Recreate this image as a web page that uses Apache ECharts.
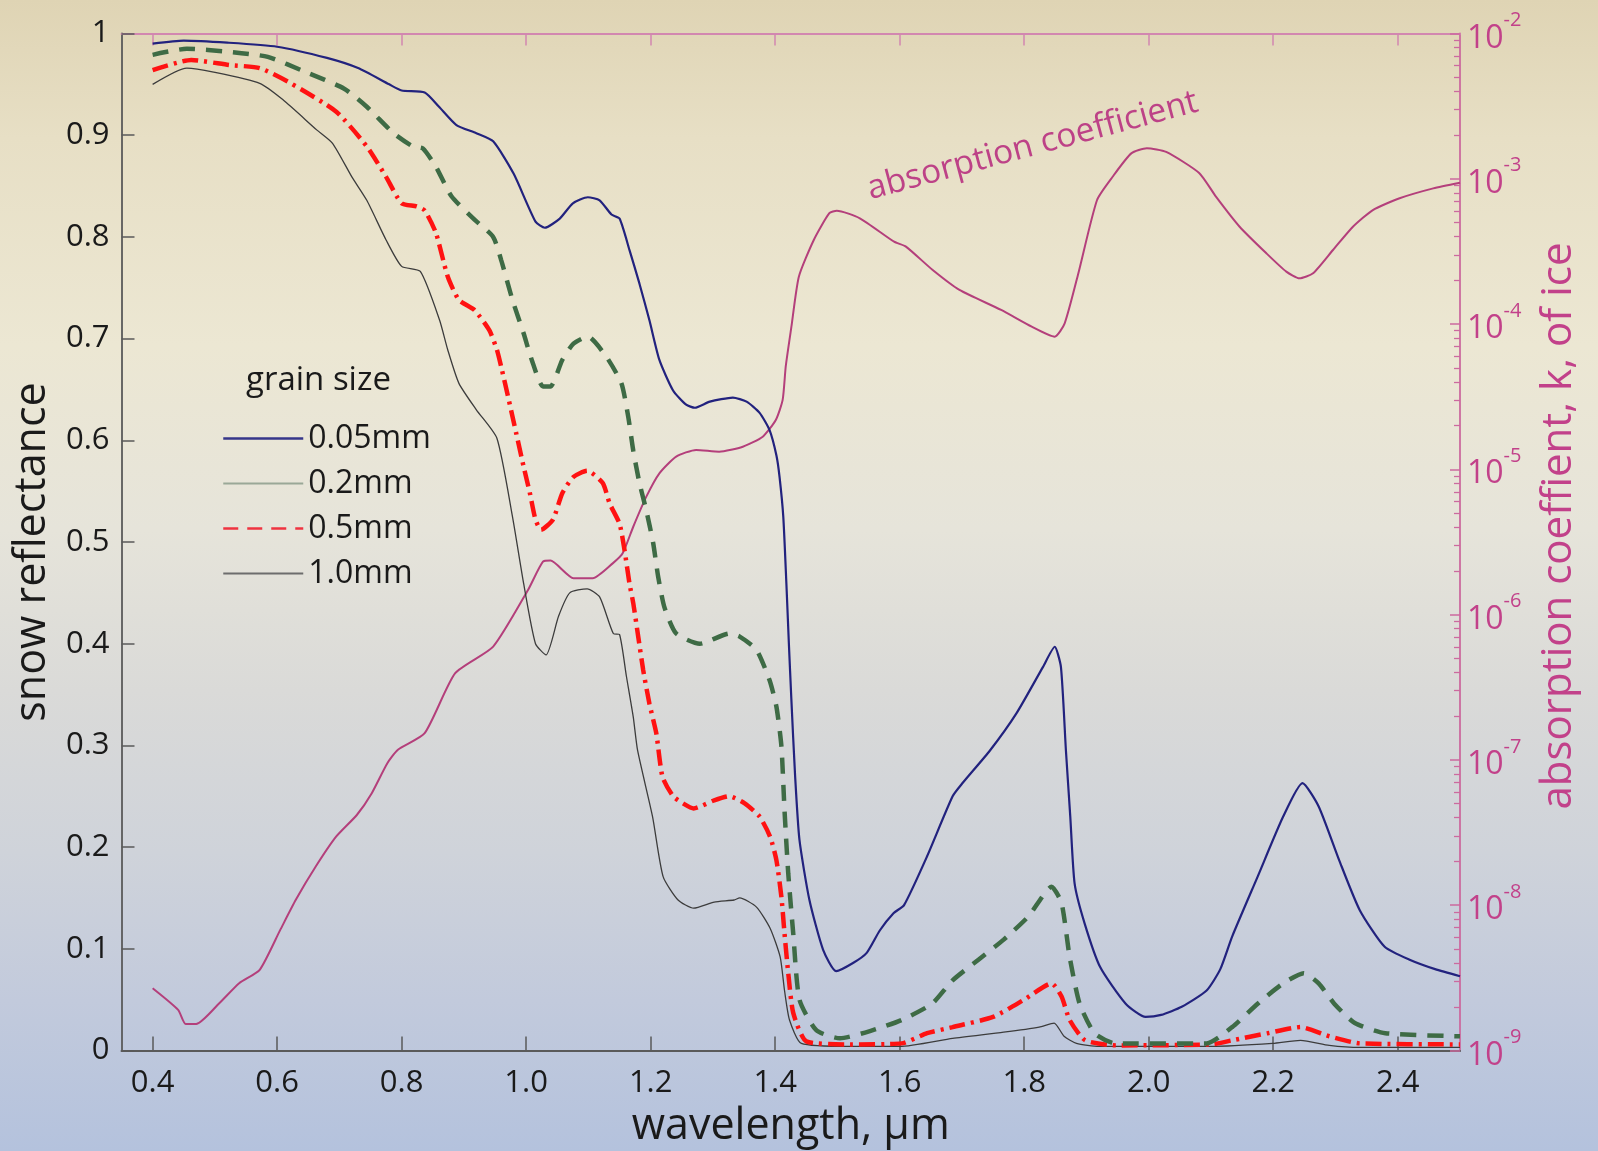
<!DOCTYPE html>
<html><head><meta charset="utf-8">
<script src="https://cdn.jsdelivr.net/npm/echarts@6/dist/echarts.min.js"></script>
<style>
html,body{margin:0;padding:0;width:1598px;height:1151px;overflow:hidden;}
body{background:linear-gradient(to bottom,#dfd4b4 0%,#e7dfc5 12%,#ece7d3 30%,#e6e4da 46%,#dadad8 60%,#cfd3da 74%,#c2cadc 87%,#b4c2dd 100%);}
#chart{width:1598px;height:1151px;}
</style></head><body><div id="chart"></div>
<script>
// ---- data ----
const xTickValues = [0.4, 0.6, 0.8, 1.0, 1.2, 1.4, 1.6, 1.8, 2.0, 2.2, 2.4];
const legendNames = ['0.05mm', '0.2mm', '0.5mm', '1.0mm'];

// grain 0.05 mm : [wavelength um, reflectance]
const r005 = [[0.40,0.990],[0.45,0.993],[0.52,0.991],[0.60,0.987],[0.68,0.976],[0.73,0.966],[0.78,0.950],[0.80,0.944],[0.837,0.942],[0.86,0.928],[0.888,0.910],[0.92,0.902],[0.947,0.894],[0.98,0.862],[1.015,0.815],[1.03,0.809],[1.054,0.818],[1.075,0.833],[1.099,0.839],[1.118,0.836],[1.137,0.822],[1.15,0.818],[1.166,0.787],[1.182,0.754],[1.198,0.718],[1.214,0.679],[1.236,0.649],[1.257,0.635],[1.271,0.632],[1.295,0.638],[1.332,0.642],[1.354,0.638],[1.375,0.627],[1.391,0.610],[1.402,0.585],[1.407,0.564],[1.413,0.525],[1.418,0.459],[1.422,0.400],[1.426,0.345],[1.432,0.270],[1.439,0.207],[1.455,0.148],[1.477,0.099],[1.498,0.078],[1.525,0.086],[1.547,0.096],[1.568,0.118],[1.590,0.135],[1.607,0.143],[1.644,0.191],[1.685,0.250],[1.701,0.263],[1.745,0.295],[1.788,0.332],[1.830,0.377],[1.849,0.397],[1.859,0.377],[1.867,0.295],[1.874,0.230],[1.881,0.164],[1.897,0.125],[1.922,0.082],[1.963,0.046],[1.995,0.033],[2.020,0.035],[2.053,0.043],[2.093,0.059],[2.115,0.080],[2.134,0.112],[2.175,0.171],[2.216,0.230],[2.247,0.263],[2.273,0.240],[2.306,0.187],[2.339,0.138],[2.379,0.102],[2.420,0.089],[2.460,0.080],[2.500,0.073]];

// grain 0.2 mm
const r02 = [[0.40,0.979],[0.455,0.985],[0.523,0.982],[0.585,0.977],[0.646,0.962],[0.707,0.946],[0.744,0.928],[0.787,0.902],[0.818,0.889],[0.834,0.887],[0.855,0.869],[0.88,0.840],[0.917,0.817],[0.947,0.800],[0.96,0.777],[0.978,0.738],[0.996,0.705],[1.009,0.679],[1.027,0.653],[1.039,0.653],[1.058,0.679],[1.076,0.695],[1.099,0.702],[1.129,0.682],[1.153,0.656],[1.164,0.623],[1.172,0.590],[1.182,0.558],[1.193,0.531],[1.204,0.499],[1.212,0.466],[1.222,0.436],[1.241,0.410],[1.279,0.400],[1.327,0.410],[1.343,0.407],[1.37,0.394],[1.391,0.364],[1.402,0.338],[1.41,0.299],[1.415,0.236],[1.421,0.174],[1.429,0.115],[1.439,0.050],[1.466,0.020],[1.504,0.012],[1.557,0.020],[1.603,0.030],[1.652,0.046],[1.685,0.069],[1.726,0.089],[1.767,0.109],[1.807,0.132],[1.844,0.161],[1.86,0.145],[1.873,0.092],[1.889,0.046],[1.913,0.017],[1.946,0.007],[2.093,0.007],[2.134,0.023],[2.175,0.046],[2.216,0.066],[2.249,0.076],[2.273,0.066],[2.298,0.046],[2.331,0.027],[2.38,0.017],[2.50,0.014]];

// grain 0.5 mm
const r05 = [[0.40,0.964],[0.462,0.974],[0.523,0.969],[0.572,0.966],[0.622,0.951],[0.695,0.923],[0.744,0.889],[0.775,0.859],[0.80,0.833],[0.824,0.830],[0.837,0.826],[0.855,0.804],[0.874,0.761],[0.892,0.738],[0.917,0.728],[0.941,0.708],[0.953,0.689],[0.96,0.672],[0.972,0.640],[0.984,0.607],[0.996,0.574],[1.006,0.548],[1.015,0.522],[1.024,0.512],[1.043,0.522],[1.058,0.548],[1.076,0.564],[1.098,0.570],[1.123,0.558],[1.134,0.538],[1.15,0.518],[1.158,0.492],[1.166,0.459],[1.172,0.440],[1.18,0.407],[1.188,0.374],[1.198,0.341],[1.209,0.312],[1.219,0.269],[1.236,0.250],[1.252,0.243],[1.269,0.238],[1.302,0.246],[1.326,0.250],[1.351,0.243],[1.375,0.230],[1.392,0.210],[1.402,0.187],[1.41,0.151],[1.415,0.115],[1.421,0.076],[1.429,0.037],[1.45,0.009],[1.52,0.006],[1.603,0.007],[1.644,0.017],[1.685,0.023],[1.75,0.033],[1.80,0.050],[1.844,0.066],[1.86,0.053],[1.873,0.030],[1.898,0.010],[1.95,0.005],[2.10,0.006],[2.134,0.010],[2.191,0.017],[2.244,0.023],[2.29,0.014],[2.339,0.007],[2.50,0.006]];

// grain 1.0 mm
const r10 = [[0.40,0.950],[0.455,0.966],[0.498,0.962],[0.572,0.951],[0.609,0.935],[0.664,0.905],[0.689,0.892],[0.72,0.859],[0.744,0.836],[0.775,0.797],[0.80,0.771],[0.83,0.766],[0.861,0.718],[0.874,0.689],[0.892,0.656],[0.92,0.630],[0.953,0.602],[0.978,0.525],[0.996,0.459],[1.015,0.400],[1.032,0.389],[1.052,0.427],[1.07,0.450],[1.098,0.454],[1.118,0.446],[1.14,0.410],[1.15,0.409],[1.161,0.368],[1.172,0.328],[1.179,0.295],[1.203,0.230],[1.22,0.171],[1.244,0.148],[1.269,0.140],[1.302,0.146],[1.334,0.148],[1.343,0.150],[1.37,0.141],[1.392,0.120],[1.408,0.092],[1.415,0.059],[1.423,0.030],[1.442,0.007],[1.52,0.004],[1.60,0.004],[1.685,0.012],[1.767,0.018],[1.824,0.023],[1.848,0.027],[1.864,0.014],[1.884,0.007],[1.92,0.004],[2.10,0.004],[2.199,0.007],[2.244,0.010],[2.29,0.005],[2.34,0.003],[2.50,0.003]];

// absorption coefficient of ice: [wavelength um, log10 k]
const absLog10k = [[0.40,-8.571],[0.441,-8.72],[0.453,-8.817],[0.47,-8.817],[0.507,-8.675],[0.539,-8.537],[0.572,-8.445],[0.605,-8.17],[0.63,-7.963],[0.662,-7.734],[0.695,-7.527],[0.728,-7.379],[0.752,-7.229],[0.777,-7.023],[0.794,-6.93],[0.837,-6.816],[0.886,-6.403],[0.947,-6.22],[1.003,-5.83],[1.027,-5.635],[1.039,-5.628],[1.076,-5.749],[1.107,-5.749],[1.139,-5.647],[1.155,-5.578],[1.172,-5.395],[1.193,-5.188],[1.214,-5.027],[1.241,-4.912],[1.273,-4.866],[1.31,-4.878],[1.348,-4.844],[1.38,-4.775],[1.401,-4.66],[1.412,-4.522],[1.417,-4.29],[1.426,-4.02],[1.438,-3.674],[1.462,-3.421],[1.487,-3.237],[1.499,-3.22],[1.536,-3.272],[1.591,-3.433],[1.61,-3.467],[1.653,-3.628],[1.696,-3.765],[1.763,-3.903],[1.812,-4.018],[1.849,-4.087],[1.865,-3.995],[1.887,-3.65],[1.917,-3.146],[1.942,-2.986],[1.972,-2.825],[1.997,-2.79],[2.028,-2.815],[2.081,-2.96],[2.108,-3.123],[2.146,-3.33],[2.189,-3.513],[2.221,-3.639],[2.242,-3.685],[2.264,-3.65],[2.296,-3.49],[2.328,-3.33],[2.36,-3.215],[2.403,-3.134],[2.457,-3.066],[2.50,-3.027]];

// ---- chart ----
const FONT = '"Open Sans", "Noto Sans", sans-serif';
const PINK = '#c2418a';
const AXIS_GRAY = '#5a5a5a';

const minorLogTicks = [];
for (let e = -9; e < -2; e++) for (let m = 2; m <= 9; m++) minorLogTicks.push(e + Math.log10(m));

const absData = absLog10k.map(p => [p[0], Math.pow(10, p[1])]);

const hidden = {opacity: 0, borderWidth: 0};

const chart = echarts.init(document.getElementById('chart'), null, {renderer: 'canvas'});
chart.setOption({
  animation: false,
  backgroundColor: 'transparent',
  textStyle: {fontFamily: FONT},
  grid: {left: 121.5, right: 138, top: 33.5, bottom: 100.5, containLabel: false, outerBoundsMode: 'none'},
  xAxis: [{
    type: 'value', position: 'bottom', min: 0.35, max: 2.5,
    axisLine: {lineStyle: {color: AXIS_GRAY, width: 2}},
    axisTick: {inside: true, length: 14, lineStyle: {color: AXIS_GRAY, width: 1.5}, customValues: xTickValues},
    axisLabel: {customValues: xTickValues, fontSize: 31, color: '#1a1a1a', fontFamily: FONT, margin: 17,
      formatter: v => v.toFixed(1)},
    splitLine: {show: false},
    name: 'wavelength, µm', nameLocation: 'middle', nameGap: 55,
    nameTextStyle: {fontSize: 43, color: '#1a1a1a', fontFamily: FONT}
  }, {
    type: 'value', position: 'top', min: 0.35, max: 2.5,
    axisLine: {lineStyle: {color: '#d287b0', width: 1.8}},
    axisTick: {inside: true, length: 12, lineStyle: {color: '#d287b0', width: 1.5}, customValues: xTickValues},
    axisLabel: {show: false},
    splitLine: {show: false}
  }],
  yAxis: [{
    type: 'value', position: 'left', min: 0, max: 1, interval: 0.1,
    axisLine: {lineStyle: {color: AXIS_GRAY, width: 1.8}},
    axisTick: {inside: true, length: 13, lineStyle: {color: AXIS_GRAY, width: 1.5}},
    axisLabel: {fontSize: 31, color: '#1a1a1a', fontFamily: FONT, margin: 12,
      formatter: v => (v === 0 ? '0' : (Math.abs(v - 1) < 1e-9 ? '1' : v.toFixed(1)))},
    splitLine: {show: false},
    name: 'snow reflectance', nameLocation: 'middle', nameGap: 67, nameRotate: 90,
    nameTextStyle: {fontSize: 43, color: '#1a1a1a', fontFamily: FONT, padding: [0, 20, 0, 0]}
  }, {
    type: 'log', logBase: 10, position: 'right', min: 1e-9, max: 1e-2, splitNumber: 7,
    axisLine: {lineStyle: {color: '#cc6a9f', width: 1.8}},
    axisTick: {inside: true, length: 10, lineStyle: {color: '#cc6a9f', width: 1.5}},
    axisLabel: {margin: 7, color: PINK, fontFamily: FONT, padding: [10, 0, 0, 0],
      formatter: v => '{b|10}{s|' + Math.round(Math.log10(v)) + '}',
      rich: {
        b: {fontSize: 32, lineHeight: 56, color: PINK, fontFamily: FONT},
        s: {fontSize: 20, lineHeight: 22, verticalAlign: 'top', color: PINK, fontFamily: FONT}
      }},
    splitLine: {show: false},
    name: 'absorption coeffient, k, of ice', nameLocation: 'middle', nameGap: 78, nameRotate: 90,
    nameTextStyle: {fontSize: 42, color: PINK, fontFamily: FONT, padding: [0, 0, 0, 32]}
  }, {
    type: 'value', position: 'right', min: -9, max: -2,
    axisLine: {show: false},
    axisTick: {inside: true, length: 6, lineStyle: {color: '#cc6a9f', width: 1.3}, customValues: minorLogTicks},
    axisLabel: {show: false},
    splitLine: {show: false}
  }],
  legend: {
    orient: 'vertical', left: 217, top: 411, itemGap: 0, itemWidth: 80, itemHeight: 14,
    selectedMode: false,
    textStyle: {fontSize: 32, color: '#1a1a1a', fontFamily: FONT, lineHeight: 45},
    data: [
      {name: legendNames[0], itemStyle: hidden, lineStyle: {color: '#36368a', width: 2.5, type: 'solid'}},
      {name: legendNames[1], itemStyle: hidden, lineStyle: {color: '#9aa897', width: 2, type: 'solid'}},
      {name: legendNames[2], itemStyle: hidden, lineStyle: {color: '#ef3340', width: 2.5, type: [15, 9]}},
      {name: legendNames[3], itemStyle: hidden, lineStyle: {color: '#6d6d6d', width: 2, type: 'solid'}}
    ]
  },
  graphic: [
    {type: 'text', left: 246, top: 364, z: 100,
      style: {text: 'grain size', fontSize: 33, fill: '#1a1a1a', fontFamily: FONT}},
    {type: 'text', x: 868, y: 190, rotation: 15 * Math.PI / 180, z: 100,
      style: {text: 'absorption coefficient', fontSize: 33.5, fill: '#bd4287', fontFamily: FONT,
        textAlign: 'left', textVerticalAlign: 'middle'}}
  ],
  series: [
    {name: 'absorption coefficient', type: 'line', xAxisIndex: 0, yAxisIndex: 1, data: absData,
      symbol: 'none', smooth: 0.2, lineStyle: {color: '#b43f7b', width: 2}, z: 2},
    {name: legendNames[3], type: 'line', xAxisIndex: 0, yAxisIndex: 0, data: r10,
      symbol: 'none', smooth: 0.2, lineStyle: {color: '#3c3c3c', width: 1.3}, z: 3},
    {name: legendNames[2], type: 'line', xAxisIndex: 0, yAxisIndex: 0, data: r05,
      symbol: 'none', smooth: 0.2, lineStyle: {color: '#ff1212', width: 4.5, type: [16, 6, 3, 6]}, z: 4},
    {name: legendNames[1], type: 'line', xAxisIndex: 0, yAxisIndex: 0, data: r02,
      symbol: 'none', smooth: 0.2, lineStyle: {color: '#3e6b45', width: 4.5, type: [16, 11]}, z: 5},
    {name: legendNames[0], type: 'line', xAxisIndex: 0, yAxisIndex: 0, data: r005,
      symbol: 'none', smooth: 0.2, lineStyle: {color: '#22227e', width: 2.2}, z: 6}
  ]
});
</script></body></html>
